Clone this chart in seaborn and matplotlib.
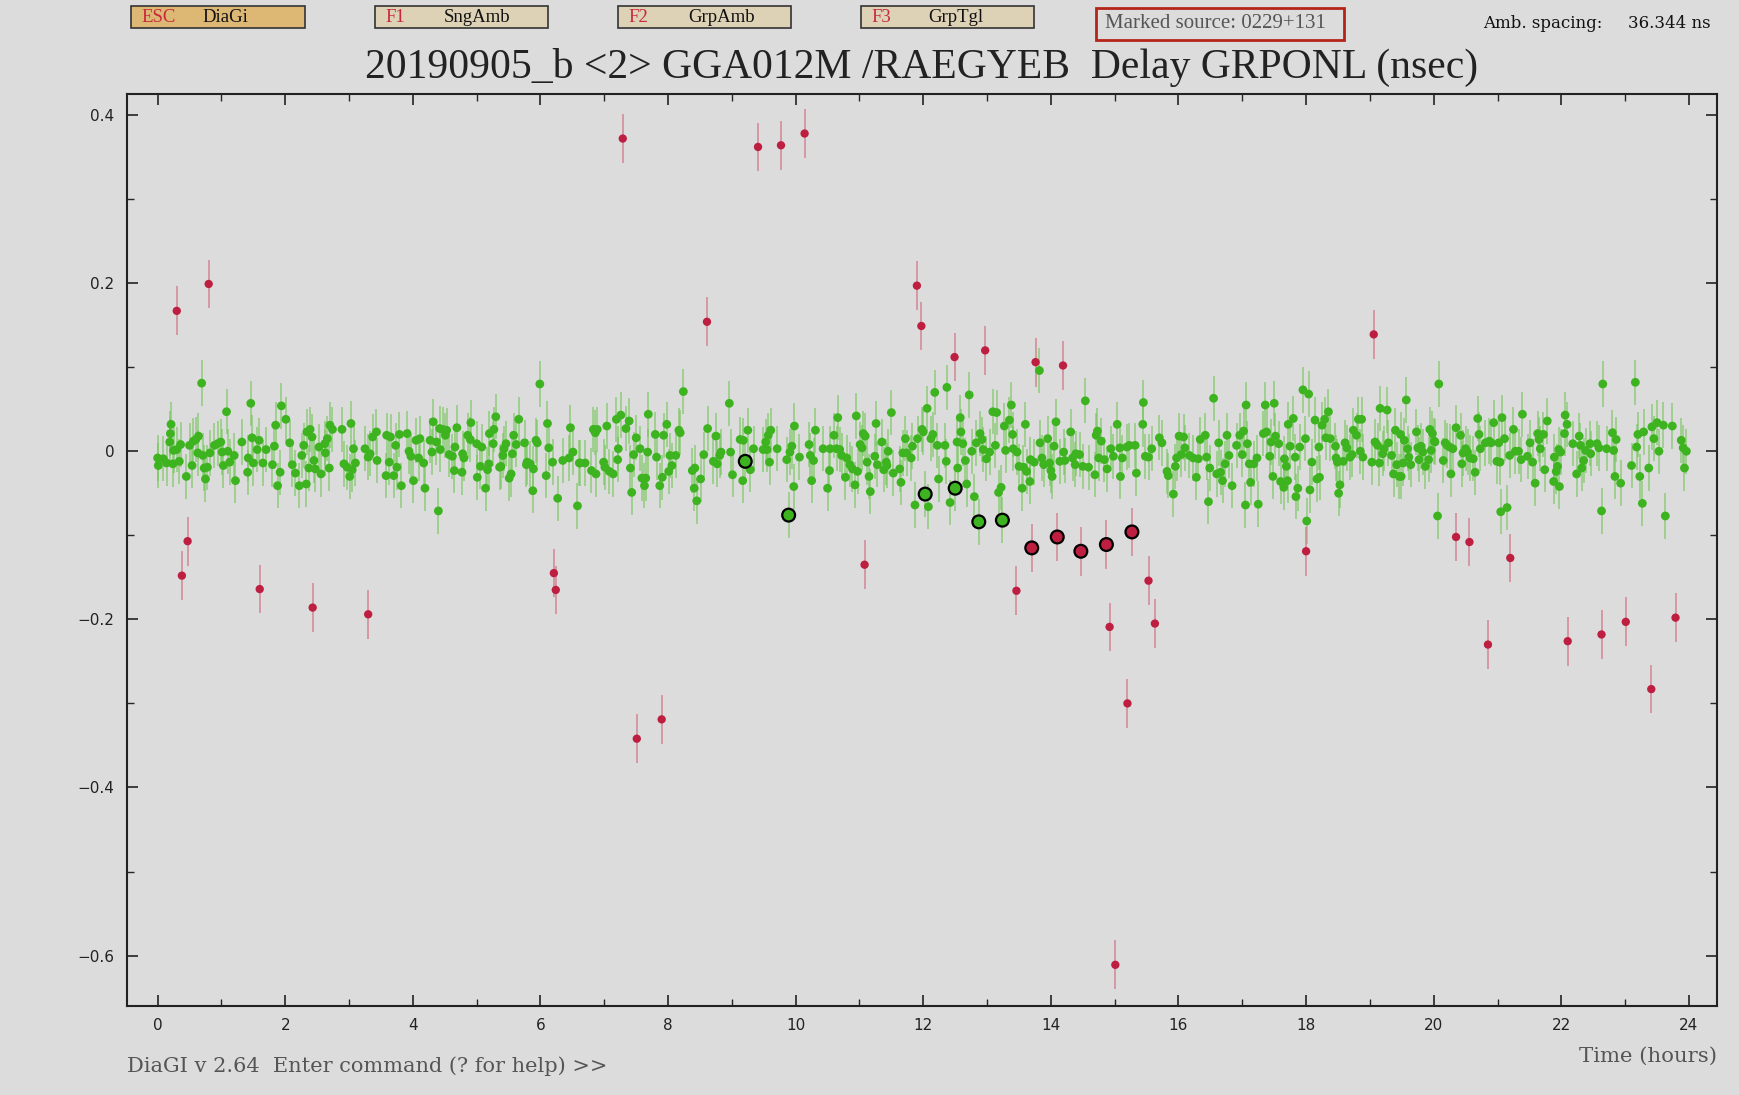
import numpy as np
import pandas as pd
import matplotlib
matplotlib.use("Agg")
import matplotlib.pyplot as plt
import seaborn as sns
from matplotlib.patches import Rectangle
from matplotlib.ticker import MultipleLocator, FuncFormatter

# ---------------- data (time in hours, delay residual in nsec) ----------------
GOOD_T_A = [0.00,0.01,0.09,0.14,0.19,0.20,0.21,0.24,0.25,0.30,0.34,0.36,0.45,0.50,0.54,0.56,0.60,0.63,0.64,0.69,0.71,0.73,0.75,0.78,0.82,0.89,0.94,0.99,1.01,1.03,1.08,1.10,1.13,1.20,1.22,1.32,1.41,1.42,1.46,1.48,1.50,1.56,1.59,1.65,1.70,1.80,1.83,1.85,1.88,1.92,1.94,2.01,2.07,2.11,2.16,2.22,2.26,2.29,2.33,2.34,2.37,2.39,2.42,2.45,2.47,2.53,2.56,2.62,2.63,2.66,2.69,2.70,2.74,2.89,2.92,2.97,3.01,3.03,3.05,3.07,3.10,3.25,3.30,3.33,3.37,3.43,3.44,3.58,3.59,3.63,3.65,3.70,3.73,3.75,3.79,3.82,3.91,3.94,3.97,4.01,4.05,4.09,4.11,4.17,4.19,4.27,4.30,4.32,4.37,4.40,4.42,4.43,4.47,4.51,4.53,4.57,4.62,4.65,4.66,4.69,4.77,4.78,4.80,4.86,4.90,4.91,5.00,5.01,5.06,5.08,5.14,5.17,5.19,5.20,5.26,5.27,5.30,5.36,5.38,5.41,5.43,5.46,5.51,5.54,5.56,5.58,5.62,5.66,5.75,5.78,5.79,5.84,5.88,5.89,5.93,5.95,5.99,6.09,6.11,6.13,6.19,6.27,6.35,6.45,6.47,6.51,6.58,6.61]
GOOD_V_A = [-0.008,-0.017,-0.009,-0.014,0.011,0.021,0.032,-0.015,0.001,0.002,-0.012,0.008,-0.030,0.007,-0.017,0.012,0.014,-0.002,0.018,0.081,-0.005,-0.020,-0.033,-0.019,-0.002,0.007,0.009,0.011,-0.001,-0.017,0.047,0.000,-0.013,-0.005,-0.035,0.011,-0.025,-0.008,0.057,0.016,-0.014,0.002,0.013,-0.014,0.002,-0.016,0.006,0.031,-0.041,-0.025,0.054,0.038,0.010,-0.016,-0.026,-0.041,-0.005,0.007,-0.039,0.023,-0.020,0.026,0.017,-0.011,-0.021,0.005,-0.027,0.009,-0.002,0.015,-0.020,0.031,0.026,0.026,-0.015,-0.019,-0.030,0.033,-0.022,0.003,-0.014,0.003,-0.007,-0.003,0.017,0.023,-0.011,-0.029,0.019,-0.013,0.017,-0.029,0.007,-0.019,0.020,-0.041,0.021,0.000,-0.006,-0.035,0.013,-0.008,0.015,-0.014,-0.044,0.013,-0.001,0.035,0.011,-0.071,0.027,0.002,0.026,0.019,0.025,-0.004,-0.006,-0.023,0.005,0.028,-0.025,-0.003,-0.008,0.019,0.014,0.034,0.009,-0.031,-0.018,0.005,-0.044,-0.022,-0.015,0.021,0.009,0.026,0.041,-0.019,-0.018,-0.005,0.003,0.009,-0.032,-0.027,-0.003,0.019,0.008,0.038,0.010,-0.016,-0.013,-0.015,-0.047,-0.021,0.013,0.010,0.080,-0.029,0.033,0.004,-0.013,-0.056,-0.011,-0.008,0.028,-0.001,-0.065,-0.014]

GOOD_T_B = [6.62,6.70,6.80,6.83,6.86,6.87,6.89,6.99,7.01,7.04,7.08,7.14,7.19,7.21,7.22,7.26,7.34,7.39,7.41,7.43,7.46,7.50,7.56,7.59,7.63,7.65,7.68,7.69,7.80,7.82,7.87,7.91,7.93,7.98,8.01,8.03,8.06,8.12,8.17,8.19,8.24,8.38,8.41,8.42,8.45,8.51,8.56,8.62,8.71,8.75,8.77,8.81,8.83,8.96,8.98,9.01,9.13,9.17,9.18,9.25,9.29,9.34,9.49,9.53,9.55,9.57,9.59,9.61,9.71,9.86,9.91,9.94,9.97,9.98,10.06,10.21,10.23,10.25,10.28,10.31,10.43,10.50,10.53,10.54,10.60,10.64,10.66,10.69,10.72,10.78,10.80,10.85,10.89,10.93,10.95,10.97,11.01,11.04,11.06,11.09,11.12,11.15,11.17,11.24,11.26,11.28,11.35,11.38,11.42,11.43,11.45,11.50,11.53,11.63,11.65,11.68,11.72,11.74,11.81,11.83,11.87,11.91,11.98,12.00,12.06,12.08,12.12,12.15,12.18,12.22,12.24,12.34,12.36,12.37,12.42,12.53,12.54,12.58,12.59,12.62,12.66,12.68,12.72,12.76,12.80,12.83,12.89,12.92,12.94,12.99,13.04,13.09,13.13,13.15,13.18,13.22,13.27,13.29,13.35,13.38,13.40,13.41,13.47,13.50,13.55,13.57,13.60,13.62]
GOOD_V_B = [-0.014,-0.014,-0.023,0.026,0.022,-0.027,0.026,-0.013,-0.019,0.030,-0.024,-0.027,0.038,-0.010,0.003,0.043,0.027,0.036,-0.020,-0.049,-0.004,0.016,0.003,-0.032,-0.041,-0.032,-0.001,0.044,0.020,-0.007,-0.041,-0.031,0.019,0.032,-0.024,-0.005,-0.017,-0.005,0.025,0.022,0.071,-0.023,-0.044,-0.020,-0.059,-0.033,-0.004,0.027,-0.012,0.018,-0.015,-0.005,-0.001,0.057,-0.001,-0.028,0.014,-0.035,0.013,0.025,-0.022,0.003,0.002,0.011,0.002,0.019,-0.013,0.025,0.003,-0.010,-0.001,0.006,-0.042,0.030,-0.007,0.008,-0.005,-0.035,-0.011,0.025,0.003,-0.044,-0.023,0.003,0.019,0.003,0.040,0.002,-0.005,-0.031,-0.008,-0.016,-0.021,-0.040,0.042,-0.024,0.008,0.004,0.021,0.018,-0.013,-0.030,-0.048,-0.006,0.033,-0.016,0.011,-0.022,-0.013,-0.017,0.000,0.046,-0.026,-0.021,-0.037,-0.002,0.015,-0.002,-0.008,0.006,-0.064,0.015,0.026,0.023,0.051,-0.066,0.015,0.020,0.070,0.007,-0.033,0.007,-0.012,0.076,-0.061,0.011,-0.020,0.040,0.023,0.009,-0.011,-0.039,0.067,0.000,-0.054,0.010,0.021,0.014,0.002,-0.009,-0.001,0.047,0.007,0.046,-0.049,-0.043,0.030,0.001,0.037,0.055,0.020,0.003,-0.001,-0.018,-0.044,-0.019,0.032,-0.024]

GOOD_T_C = [13.67,13.68,13.74,13.82,13.83,13.86,13.89,13.95,13.98,14.00,14.02,14.05,14.08,14.14,14.20,14.22,14.31,14.34,14.38,14.39,14.45,14.50,14.54,14.59,14.69,14.71,14.73,14.75,14.79,14.84,14.88,14.94,14.98,15.04,15.08,15.09,15.12,15.19,15.23,15.32,15.34,15.44,15.45,15.48,15.53,15.58,15.70,15.74,15.82,15.84,15.92,15.95,15.97,16.01,16.04,16.08,16.10,16.17,16.23,16.28,16.31,16.34,16.42,16.44,16.47,16.49,16.55,16.60,16.63,16.66,16.69,16.73,16.76,16.79,16.84,16.91,16.96,17.00,17.02,17.05,17.06,17.08,17.11,17.13,17.18,17.23,17.25,17.33,17.36,17.38,17.43,17.45,17.48,17.50,17.52,17.57,17.60,17.65,17.66,17.69,17.71,17.72,17.75,17.80,17.83,17.84,17.87,17.90,17.95,17.99,18.01,18.04,18.06,18.09,18.14,18.17,18.20,18.21,18.25,18.29,18.31,18.35,18.38,18.46,18.47,18.49,18.51,18.53,18.58,18.61,18.64,18.69,18.72,18.74,18.79,18.82,18.85,18.87,18.89,19.03,19.08,19.12,19.15,19.16,19.20,19.22,19.27,19.29,19.34,19.37,19.40,19.42,19.46]
GOOD_V_C = [-0.036,-0.010,-0.013,0.096,0.010,-0.008,-0.016,0.015,-0.014,-0.023,-0.030,0.006,0.035,-0.012,-0.001,-0.011,0.023,-0.008,-0.016,-0.003,-0.004,-0.018,0.060,-0.019,-0.028,0.019,0.024,-0.008,0.012,-0.010,-0.021,0.003,-0.006,0.032,0.004,-0.030,-0.008,0.005,0.007,0.007,-0.026,0.032,0.058,-0.006,-0.007,0.003,0.016,0.010,-0.024,-0.029,-0.051,-0.018,-0.008,0.018,-0.004,0.017,0.004,-0.005,-0.008,-0.031,-0.009,0.014,0.019,-0.007,-0.060,-0.020,0.063,-0.027,0.010,-0.025,-0.035,-0.015,0.019,-0.005,-0.041,0.007,0.019,-0.004,0.024,-0.064,0.055,0.009,-0.015,-0.037,-0.015,-0.008,-0.063,0.021,0.055,0.023,-0.006,0.011,-0.030,0.057,0.018,0.009,-0.036,-0.043,-0.009,-0.018,-0.035,0.032,0.006,0.039,-0.007,-0.054,-0.044,0.005,0.073,0.015,-0.083,0.068,-0.046,-0.013,0.037,-0.033,0.005,-0.031,0.031,0.038,0.016,0.047,0.015,0.006,-0.008,-0.013,-0.050,-0.040,-0.012,0.010,0.004,-0.007,-0.004,0.025,0.019,0.038,0.000,0.038,-0.007,-0.013,0.011,0.007,-0.014,0.051,-0.003,0.003,0.049,0.010,-0.005,-0.027,0.025,-0.016,-0.030]

GOOD_T_D = [19.48,19.49,19.52,19.54,19.57,19.59,19.61,19.64,19.73,19.75,19.77,19.80,19.83,19.87,19.92,19.94,19.96,19.98,20.01,20.02,20.06,20.08,20.15,20.18,20.21,20.25,20.27,20.30,20.35,20.42,20.44,20.46,20.50,20.53,20.57,20.62,20.65,20.69,20.71,20.73,20.81,20.87,20.90,20.94,20.99,21.02,21.04,21.05,21.07,21.11,21.15,21.19,21.25,21.28,21.33,21.37,21.39,21.47,21.51,21.55,21.59,21.63,21.65,21.67,21.72,21.74,21.78,21.88,21.89,21.92,21.94,21.96,21.97,21.99,22.05,22.06,22.09,22.18,22.24,22.28,22.30,22.32,22.35,22.38,22.45,22.46,22.56,22.59,22.63,22.65,22.71,22.80,22.82,22.84,22.86,22.93,23.10,23.16,23.18,23.20,23.23,23.27,23.29,23.37,23.42,23.45,23.50,23.53,23.60,23.63,23.74,23.88,23.91,23.93,23.96]
GOOD_V_D = [0.020,-0.030,-0.014,0.013,0.061,0.003,-0.007,-0.016,0.023,0.004,-0.010,0.006,-0.001,-0.018,-0.010,0.026,0.001,0.021,0.012,0.011,-0.077,0.080,-0.011,0.010,0.007,0.005,-0.027,0.003,0.028,0.019,-0.015,-0.002,0.003,-0.001,-0.008,-0.009,-0.025,0.039,0.020,0.003,0.010,0.012,0.010,0.034,-0.012,0.010,-0.013,-0.072,0.040,0.015,-0.067,-0.005,0.026,0.000,0.000,-0.010,0.044,-0.006,0.010,-0.013,-0.038,0.021,0.014,0.003,0.020,-0.022,0.036,-0.036,-0.007,-0.024,-0.018,0.002,-0.042,-0.001,0.021,0.043,0.032,0.009,-0.027,0.018,0.007,-0.020,-0.011,0.001,0.009,-0.003,0.009,0.004,-0.071,0.080,0.003,0.022,0.001,-0.030,0.014,-0.038,-0.017,0.082,0.005,0.020,-0.030,-0.062,0.023,-0.020,0.029,0.015,0.034,0.000,0.031,-0.077,0.030,0.013,0.004,-0.020,0.000]

# rejected observations (red)
BAD_T = [0.30,0.80,0.38,0.47,1.60,2.43,3.30,6.21,6.24,7.29,7.51,7.90,8.61,9.41,9.77,10.14,11.08,11.90,11.97,12.49,12.97,13.76,14.19,13.46,14.92,15.01,15.20,15.53,15.63,18.00,19.06,20.35,20.56,20.85,21.20,22.10,22.63,23.01,23.41,23.79]
BAD_V = [0.167,0.199,-0.148,-0.107,-0.164,-0.186,-0.194,-0.145,-0.165,0.372,-0.342,-0.319,0.154,0.362,0.364,0.378,-0.135,0.197,0.149,0.112,0.120,0.106,0.102,-0.166,-0.209,-0.611,-0.300,-0.154,-0.205,-0.119,0.139,-0.102,-0.108,-0.230,-0.127,-0.226,-0.218,-0.203,-0.283,-0.198]

# observations of the marked source 0229+131
MARK_T = [9.21,9.89,12.03,12.50,12.87,13.24,13.70,14.10,14.47,14.87,15.27]
MARK_V = [-0.012,-0.076,-0.051,-0.044,-0.084,-0.082,-0.115,-0.102,-0.119,-0.111,-0.096]
MARK_STATUS = ["good"] * 6 + ["bad"] * 5

GOOD_ERR = 0.027
BAD_ERR = 0.029

# ---------------- figure ----------------
W, H = 1739, 1095
BG = "#dcdcdc"
GREEN = "#3db320"
GREEN_BAR = "#6fc454"
RED = "#be1e40"
RED_BAR = "#cf7d8f"

sns.set_theme(style="ticks")
plt.rcParams["font.family"] = ["DejaVu Sans"]

fig = plt.figure(figsize=(W / 100, H / 100), dpi=100, facecolor=BG)
ax = fig.add_axes([127 / W, 1 - 1006 / H, (1717 - 127) / W, (1006 - 94) / H])
ax.set_facecolor(BG)

good = pd.DataFrame({"t": GOOD_T_A + GOOD_T_B + GOOD_T_C + GOOD_T_D,
                     "v": GOOD_V_A + GOOD_V_B + GOOD_V_C + GOOD_V_D})
bad = pd.DataFrame({"t": BAD_T, "v": BAD_V})
mark = pd.DataFrame({"t": MARK_T, "v": MARK_V, "status": MARK_STATUS})
mgood = mark[mark.status == "good"]
mbad = mark[mark.status == "bad"]

ax.errorbar(good.t, good.v, yerr=GOOD_ERR, fmt="none", ecolor=GREEN_BAR,
            alpha=0.7, elinewidth=1.1, capsize=0, zorder=1)
ax.errorbar(mgood.t, mgood.v, yerr=GOOD_ERR, fmt="none", ecolor=GREEN_BAR,
            alpha=0.7, elinewidth=1.1, capsize=0, zorder=1)
ax.errorbar(bad.t, bad.v, yerr=BAD_ERR, fmt="none", ecolor=RED_BAR,
            alpha=0.9, elinewidth=1.1, capsize=0, zorder=2)
ax.errorbar(mbad.t, mbad.v, yerr=BAD_ERR, fmt="none", ecolor=RED_BAR,
            alpha=0.9, elinewidth=1.1, capsize=0, zorder=2)

sns.scatterplot(data=good, x="t", y="v", color=GREEN, s=40, edgecolor="none",
                linewidth=0, ax=ax, zorder=3, legend=False)
sns.scatterplot(data=bad, x="t", y="v", color=RED, s=36, edgecolor="none",
                linewidth=0, ax=ax, zorder=4, legend=False)
sns.scatterplot(data=mark, x="t", y="v", hue="status",
                palette={"good": GREEN, "bad": RED}, s=85, edgecolor="black",
                linewidth=1.6, ax=ax, zorder=5, legend=False)

ax.set_xlim(-0.48, 24.44)
ax.set_ylim(-0.66, 0.425)
ax.set_xlabel("")
ax.set_ylabel("")
ax.xaxis.set_major_locator(MultipleLocator(2))
ax.xaxis.set_minor_locator(MultipleLocator(1))
ax.yaxis.set_major_locator(MultipleLocator(0.2))
ax.yaxis.set_minor_locator(MultipleLocator(0.1))
ax.xaxis.set_major_formatter(FuncFormatter(lambda v, p: f"{int(round(v))}"))
ax.yaxis.set_major_formatter(
    FuncFormatter(lambda v, p: f"{round(v, 6):g}".replace("-", "\u2212")))
ax.tick_params(which="major", direction="in", length=8, width=1.2,
               top=True, right=True, labelsize=11, colors="#222222", pad=9)
ax.tick_params(which="minor", direction="in", length=5, width=1.0,
               top=True, right=True)
ax.tick_params(axis="y", which="major", pad=9)
for sp in ax.spines.values():
    sp.set_visible(True)
    sp.set_linewidth(1.5)
    sp.set_color("#222222")


def fx(x):
    return x / W


def fy(y):
    return 1 - y / H


SERIF = ["Liberation Serif", "DejaVu Serif"]
WIDE_SERIF = ["DejaVu Serif"]

# header buttons
buttons = [("ESC", "DiaGi", 131, 305, "#ddb874", 202),
           ("F1", "SngAmb", 375, 548, "#ddd1b6", 444),
           ("F2", "GrpAmb", 618, 791, "#ddd1b6", 688),
           ("F3", "GrpTgl", 861, 1034, "#ddd1b6", 928)]
for key, label, x0, x1, col, lx in buttons:
    fig.add_artist(Rectangle((fx(x0), fy(28)), fx(x1) - fx(x0), fy(6) - fy(28),
                             transform=fig.transFigure, facecolor=col,
                             edgecolor="#333333", linewidth=1.2))
    fig.text(fx(x0 + 10), fy(22.5), key, color="#c8283c", fontsize=13.5,
             family=SERIF, ha="left", va="baseline")
    fig.text(fx(lx), fy(22.5), label, color="#111111", fontsize=13.5,
             family=SERIF, ha="left", va="baseline")

fig.add_artist(Rectangle((fx(1096), fy(40)), fx(1344) - fx(1096), fy(8) - fy(40),
                         transform=fig.transFigure, facecolor="none",
                         edgecolor="#b42418", linewidth=2))
fig.text(fx(1105), fy(28), "Marked source: 0229+131", color="#555555",
         fontsize=15, family=SERIF, ha="left", va="baseline")
fig.text(fx(1483), fy(28), "Amb. spacing:", color="#111111",
         fontsize=12, family=WIDE_SERIF, ha="left", va="baseline")
fig.text(fx(1711), fy(28), "36.344 ns", color="#111111",
         fontsize=12, family=WIDE_SERIF, ha="right", va="baseline")

fig.text(fx(922), fy(78), "20190905_b <2> GGA012M /RAEGYEB  Delay GRPONL (nsec)",
         color="#222222", fontsize=30, family=SERIF, ha="center", va="baseline")

fig.text(fx(127), fy(1072), "DiaGI v 2.64  Enter command (? for help) >>",
         color="#555555", fontsize=15, family=WIDE_SERIF, ha="left", va="baseline")
fig.text(fx(1717), fy(1062), "Time (hours)", color="#555555", fontsize=15.3,
         family=WIDE_SERIF, ha="right", va="baseline")

fig.savefig("out.png", dpi=100, facecolor=BG)
